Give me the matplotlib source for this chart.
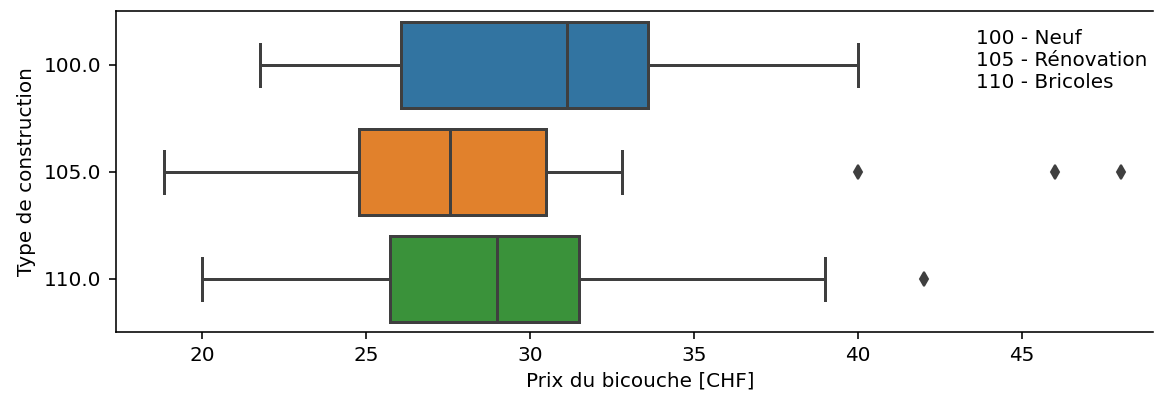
import matplotlib
matplotlib.use("Agg")
import matplotlib.pyplot as plt

# Construction types (y categories) and price summary statistics per type
categories = [100.0, 105.0, 110.0]
whisker_low = [21.75, 18.82, 20.0]
q1 = [26.05, 24.77, 25.72]
median = [31.13, 27.55, 28.98]
q3 = [33.58, 30.47, 31.50]
whisker_high = [40.0, 32.8, 39.0]
outliers = [[], [40.0, 46.0, 48.0], [42.0]]

box_colors = ["#3274a1", "#e1812c", "#3a923a"]
line_gray = "#3f3f3f"

legend_text = "100 - Neuf\n105 - Rénovation\n110 - Bricoles"

W, H = 1154, 396
fig = plt.figure(figsize=(W / 144, H / 144), dpi=144)
ax_left, ax_right = 115.7 / W, 1153.0 / W
ax = fig.add_axes([ax_left, 0.1604, ax_right - ax_left, 0.8106])

stats = []
for i in range(len(categories)):
    stats.append({
        "med": median[i], "q1": q1[i], "q3": q3[i],
        "whislo": whisker_low[i], "whishi": whisker_high[i],
        "fliers": outliers[i],
    })

lw = 1.5
bp = ax.bxp(
    stats,
    positions=range(len(categories)),
    widths=0.8,
    orientation="horizontal",
    patch_artist=True,
    boxprops=dict(edgecolor=line_gray, linewidth=lw),
    medianprops=dict(color=line_gray, linewidth=lw),
    whiskerprops=dict(color=line_gray, linewidth=lw),
    capprops=dict(color=line_gray, linewidth=lw),
    flierprops=dict(marker="d", markerfacecolor=line_gray,
                    markeredgecolor=line_gray, markersize=5, linestyle="none"),
)
for patch, c in zip(bp["boxes"], box_colors):
    patch.set_facecolor(c)

# x range starts 5 % of the data span below the minimum and runs to the
# right edge of the figure at the same scale
lo = min(whisker_low + [v for o in outliers for v in o])
hi = max(whisker_high + [v for o in outliers for v in o])
pad = 0.05 * (hi - lo)
ax.set_xlim(lo - pad, 48.99)
ax.spines["right"].set_visible(False)

ax.set_ylim(len(categories) - 0.5, -0.5)
ax.set_yticks(range(len(categories)))
ax.set_yticklabels([f"{c:.1f}" for c in categories])

ax.set_xlabel("Prix du bicouche [CHF]")
ax.xaxis.set_label_coords(0.506, -0.12)
ax.set_ylabel("Type de construction")

ax.text(43.6, 0.213, legend_text, va="baseline", ha="left")

fig.savefig("out.png", dpi=144)
